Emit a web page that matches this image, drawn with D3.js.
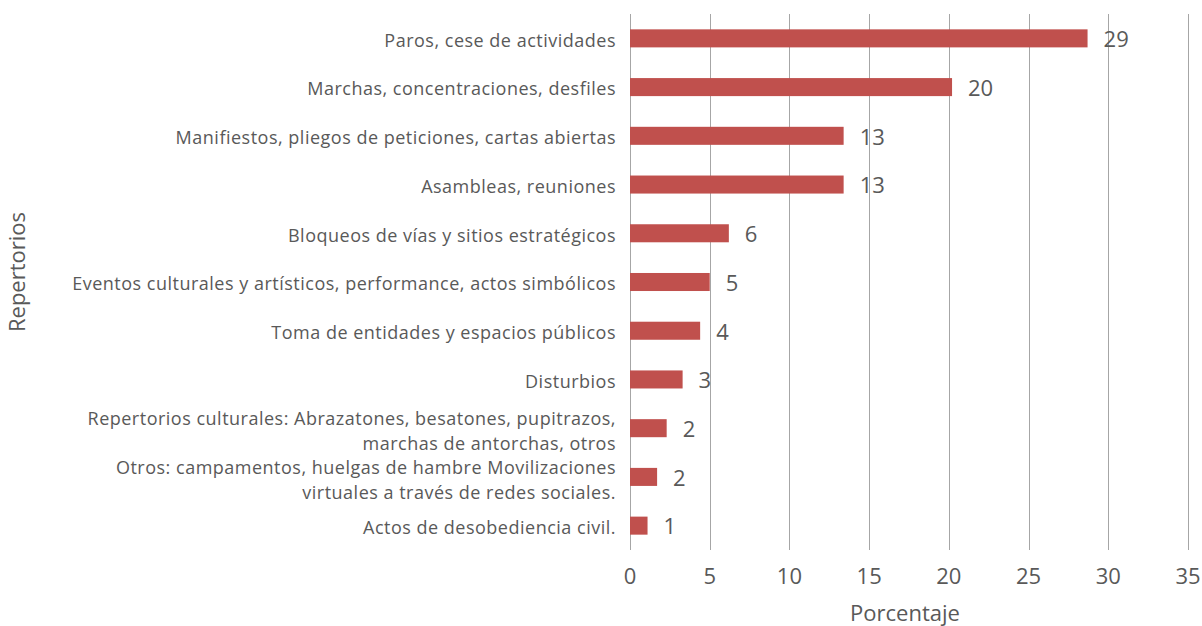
<!DOCTYPE html>
<html>
<head>
<meta charset="utf-8">
<script src="https://cdn.jsdelivr.net/npm/d3@7"></script>
<style>
  body { margin: 0; background: #fff; }
  text { font-family: "Open Sans", "Noto Sans", sans-serif; fill: #595959; }
</style>
</head>
<body>
<svg id="chart" width="1202" height="626"></svg>
<script>
// categories, top to bottom (\n splits a label onto two lines)
const categories = [
    "Paros, cese de actividades",
    "Marchas, concentraciones, desfiles",
    "Manifiestos, pliegos de peticiones, cartas abiertas",
    "Asambleas, reuniones",
    "Bloqueos de vías y sitios estratégicos",
    "Eventos culturales y artísticos, performance, actos simbólicos",
    "Toma de entidades y espacios públicos",
    "Disturbios",
    "Repertorios culturales: Abrazatones, besatones, pupitrazos,\nmarchas de antorchas, otros",
    "Otros: campamentos, huelgas de hambre Movilizaciones\nvirtuales a través de redes sociales.",
    "Actos de desobediencia civil."
];
const values = [28.7, 20.2, 13.4, 13.4, 6.2, 5.0, 4.4, 3.3, 2.3, 1.7, 1.1];
const xTicks = [0, 5, 10, 15, 20, 25, 30, 35];
const xTitle = "Porcentaje";
const yTitle = "Repertorios";

const svg = d3.select("#chart");
const margin = {left: 630, right: 14, top: 14, bottom: 76};
const width = 1202 - margin.left - margin.right;
const height = 626 - margin.top - margin.bottom;

const g = svg.append("g").attr("transform", `translate(${margin.left},${margin.top})`);

const x = d3.scaleLinear().domain([0, 35]).range([0, width]);
const y = d3.scaleBand().domain(categories).range([0, height]).paddingInner(0.63).paddingOuter(0.315);

// vertical gridlines
g.selectAll("line.grid").data(xTicks).join("line")
    .attr("class", "grid")
    .attr("x1", d => Math.round(x(d)) + 0.5).attr("x2", d => Math.round(x(d)) + 0.5)
    .attr("y1", 0).attr("y2", height)
    .attr("stroke", "#a6a6a6").attr("stroke-width", 1);

// x tick labels
g.selectAll("text.xtick").data(xTicks).join("text")
    .attr("class", "xtick")
    .attr("x", d => x(d)).attr("y", height + 34)
    .attr("text-anchor", "middle")
    .style("font-size", "22px")
    .text(d => d);

// bars
g.selectAll("rect.bar").data(values).join("rect")
    .attr("class", "bar")
    .attr("x", 0)
    .attr("y", (d, i) => y(categories[i]))
    .attr("width", d => x(d))
    .attr("height", y.bandwidth())
    .attr("fill", "#c0504d");

// value labels
const fmt = d3.format(".0f");
g.selectAll("text.val").data(values).join("text")
    .attr("class", "val")
    .attr("x", d => x(d) + 16)
    .attr("y", (d, i) => y(categories[i]) + y.bandwidth() / 2)
    .attr("dy", "0.4em")
    .style("font-size", "22px")
    .text(d => fmt(d));

// category labels, two-line ones get their own spacing
const lineH = 25;
categories.forEach(c => {
    const lines = c.split("\n");
    const cy = y(c) + y.bandwidth() / 2;
    const off = lines.length > 1 ? 3 : 2;
    const t = g.append("text")
        .attr("text-anchor", "end")
        .style("font-size", "18px")
        .style("letter-spacing", "0.5px");
    lines.forEach((ln, k) => {
        t.append("tspan")
            .attr("x", -14)
            .attr("y", cy + (k - (lines.length - 1) / 2) * lineH + off)
            .attr("dy", "0.35em")
            .text(ln);
    });
});

// axis titles
svg.append("text")
    .attr("x", margin.left + width / 2 - 4).attr("y", 621)
    .attr("text-anchor", "middle")
    .style("font-size", "22px")
    .text(xTitle);

svg.append("text")
    .attr("transform", `translate(25, 272) rotate(-90)`)
    .attr("text-anchor", "middle")
    .style("font-size", "22px")
    .text(yTitle);
</script>
</body>
</html>
